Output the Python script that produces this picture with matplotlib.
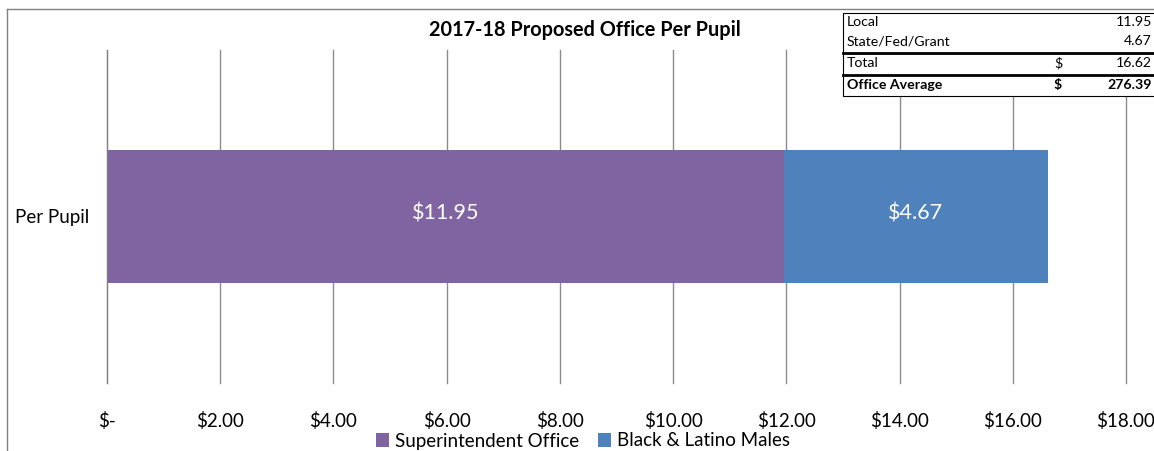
import matplotlib.pyplot as plt
from matplotlib.lines import Line2D
from matplotlib.patches import Rectangle, Patch
from matplotlib.ticker import FuncFormatter

plt.rcParams['font.family'] = ['Lato', 'DejaVu Sans']

# data
category = ['Per Pupil']
series_names = ['Superintendent Office', 'Black & Latino Males']
series_values = [11.95, 4.67]
series_colors = ['#8064A2', '#4F81BD']

table_labels = ['Local', 'State/Fed/Grant', 'Total', 'Office Average']
table_signs = ['', '', '$', '$']
table_values = [11.95, 4.67, 16.62, 276.39]

W, H = 1154, 451
fig = plt.figure(figsize=(W / 100, H / 100), dpi=100)

# plot area in pixels: x 107..1126, y 50..383
ax = fig.add_axes([107 / W, (H - 383) / H, (1126 - 107) / W, (383 - 50) / H])
ax.set_xlim(0, 18)
ax.set_ylim(-0.5, 0.5)

left = 0
for name, val, col in zip(series_names, series_values, series_colors):
    ax.barh(0, val, left=left, height=0.4, color=col, label=name, zorder=3)
    ax.text(left + val / 2, 0.01, f'${val:.2f}', color='white', fontsize=15.5,
            ha='center', va='center', zorder=4)
    left += val

ax.set_xticks(range(0, 19, 2))
ax.xaxis.set_major_formatter(FuncFormatter(lambda v, p: '$-' if v == 0 else f'${v:.2f}'))
ax.tick_params(axis='x', length=0, pad=21, labelsize=13.5)
ax.set_yticks([0])
ax.set_yticklabels(category)
ax.tick_params(axis='y', length=0, pad=13, labelsize=13.5)
ax.grid(axis='x', color='#8C8C8C', linewidth=1, zorder=0)
for gl in ax.get_xgridlines():
    gl.set_clip_on(False)
for side in ['top', 'right', 'bottom']:
    ax.spines[side].set_visible(False)
ax.spines['left'].set_color('#7F7F7F')
ax.spines['left'].set_zorder(5)

# chart border (top and left edges)
fig.add_artist(Line2D([7 / W, 1], [1 - 9 / H, 1 - 9 / H], transform=fig.transFigure,
                     color='#808080', linewidth=1))
fig.add_artist(Line2D([7 / W, 7 / W], [0, 1 - 9 / H], transform=fig.transFigure,
                     color='#808080', linewidth=1))

fig.text(585 / W, 1 - 30 / H, '2017-18 Proposed Office Per Pupil', fontsize=14.3,
         fontweight='bold', ha='center', va='center')

# summary table in the top-right corner
box_top, box_bot, box_left = 13, 96, 843
fig.add_artist(Rectangle((box_left / W, 1 - box_bot / H), (W - box_left + 5) / W,
                         (box_bot - box_top) / H, transform=fig.transFigure,
                         facecolor='white', edgecolor='black', linewidth=0.8, zorder=10))
row_y = [22, 41, 63, 85]
for i, (lab, sign, val) in enumerate(zip(table_labels, table_signs, table_values)):
    weight = 'bold' if i == 3 else 'normal'
    y = 1 - row_y[i] / H
    fig.text(847 / W, y, lab, fontsize=10.2, fontweight=weight, ha='left', va='center', zorder=11)
    if sign:
        fig.text(1058 / W, y, sign, fontsize=10.2, fontweight=weight, ha='center', va='center', zorder=11)
    fig.text(1152 / W, y, f'{val:.2f}', fontsize=10.2, fontweight=weight, ha='right', va='center', zorder=11)
for ly in [53, 75]:
    fig.add_artist(Line2D([box_left / W, 1], [1 - ly / H, 1 - ly / H], transform=fig.transFigure,
                          color='black', linewidth=2, zorder=11))

handles = [Patch(facecolor=c, label=n) for n, c in zip(series_names, series_colors)]
fig.legend(handles=handles, loc='center', bbox_to_anchor=(583 / W, 1 - 441 / H), ncol=2,
           frameon=False, fontsize=13.5, handlelength=0.7, handleheight=0.7,
           handletextpad=0.3, columnspacing=1.0)

fig.savefig('out.png', dpi=100)
